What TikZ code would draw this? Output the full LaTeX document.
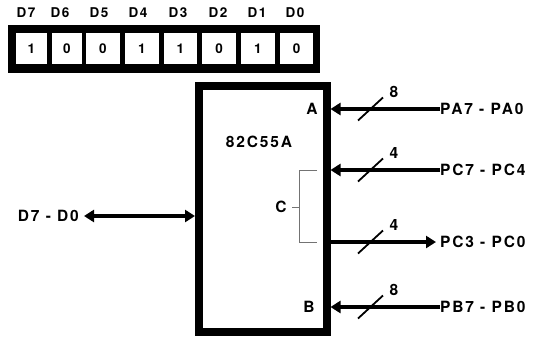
\documentclass[tikz,border=0pt]{standalone}
\usepackage{fontspec}
\setmainfont{TeX Gyre Heros}[LetterSpace=12]
\usetikzlibrary{arrows.meta}
\begin{document}
\begin{tikzpicture}[x=1pt,y=-1pt,
  lbl/.style={font=\fontsize{15.5}{15.5}\selectfont\bfseries, inner sep=0pt},
  reglbl/.style={font=\fontsize{13.5}{13.5}\selectfont\bfseries, inner sep=0pt},
  cellbox/.style={fill=white, draw=none, minimum width=#1, minimum height=31pt, inner sep=0pt, font=\fontsize{13.5}{13.5}\selectfont\bfseries},
  bus/.style={line width=4pt},
  tipin/.style={-{Triangle[length=10pt,width=12pt]}},
  slash/.style={line width=1.8pt},
  bracket/.style={draw=black!55, line width=1pt}
]
\useasboundingbox (0,0) rectangle (538,338);
% register
\node[fill=black, minimum width=312pt, minimum height=48pt, inner sep=0pt] (reg) at (164,49) {};
\node[cellbox=31pt] (c7) at (31.5,48.5) {1};
\node[cellbox=30pt] (c6) at (67,48.5) {0};
\node[cellbox=34pt] (c5) at (103,48.5) {0};
\node[cellbox=34pt] (c4) at (142,48.5) {1};
\node[cellbox=33pt] (c3) at (180.5,48.5) {1};
\node[cellbox=34pt] (c2) at (219,48.5) {0};
\node[cellbox=34pt] (c1) at (258,48.5) {1};
\node[cellbox=33pt] (c0) at (296.5,48.5) {0};
\node[reglbl] (l7) at (26,13) {D7};
\node[reglbl] (l6) at (60,13) {D6};
\node[reglbl] (l5) at (99,13) {D5};
\node[reglbl] (l4) at (138,13) {D4};
\node[reglbl] (l3) at (178,13) {D3};
\node[reglbl] (l2) at (218,13) {D2};
\node[reglbl] (l1) at (257,13) {D1};
\node[reglbl] (l0) at (295,13) {D0};
% chip
\draw[line width=8pt] (199,85.5) rectangle (326.5,332);
\node[lbl] (chipname) at (259,142) {82C55A};
\node[lbl] (pA) at (312,109) {A};
\node[lbl] (pB) at (309,307) {B};
\node[lbl] (pC) at (281,207) {C};
% port texts
\node[lbl, anchor=west] (pa) at (440,109) {PA7 - PA0};
\node[lbl, anchor=west] (pch) at (440,170) {PC7 - PC4};
\node[lbl, anchor=west] (pcl) at (440,242) {PC3 - PC0};
\node[lbl, anchor=west] (pb) at (440,307) {PB7 - PB0};
\node[lbl, anchor=east] (dd) at (79,216) {D7 - D0};
\coordinate (aIn) at (330.5,109);
\coordinate (chIn) at (330.5,170);
\coordinate (clOut) at (326.5,242);
\coordinate (bIn) at (330.5,307);
\coordinate (dIn) at (195,216);
% buses
\draw[bus, tipin] (pa.west) -- (aIn);
\draw[bus, tipin] (pch.west) -- (chIn);
\draw[bus, tipin] (clOut) -- ([xshift=-4pt]pcl.west);
\draw[bus, tipin] (pb.west) -- (bIn);
\draw[line width=3.5pt, {Triangle[length=10pt,width=12pt]}-{Triangle[length=10pt,width=12pt]}] ([xshift=5pt]dd.east) -- (dIn);
% slashes and widths
\foreach \yy/\w/\nm in {109/8/wa,170/4/wch,242/4/wcl,307/8/wb}{
  \draw[slash] (358,\yy+11.5) -- (383,\yy-11.5);
  \node[lbl] (\nm) at (394,\yy-17) {\w};
}
% C bracket
\draw[bracket] (317,170) -- (299.5,170) -- (299.5,242) -- (317,242);
\draw[bracket] (292,207) -- (299.5,207);
\end{tikzpicture}
\end{document}
